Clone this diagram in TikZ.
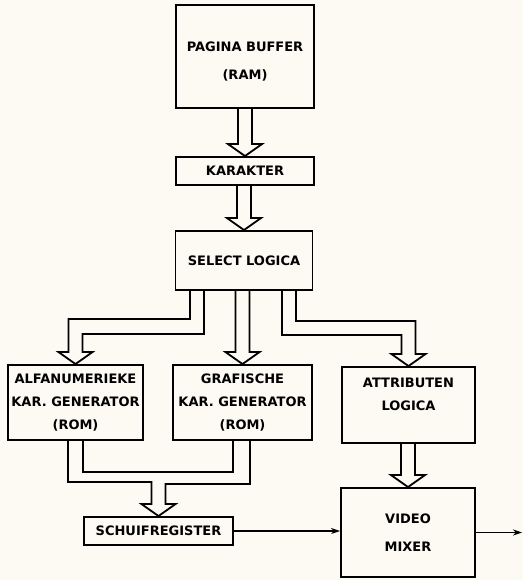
\documentclass[tikz,border=0pt]{standalone}
\usepackage{fontspec}
\setmainfont{DejaVu Sans}
\usepackage{tikz}
\usetikzlibrary{positioning,calc,arrows.meta}
\definecolor{paper}{RGB}{252,250,242}

\tikzset{
  blok/.style={draw, line width=1.9pt, rectangle, align=center, inner sep=0pt,
    font=\fontsize{13}{14}\selectfont\bfseries},
  lbl/.style={align=center, inner sep=0pt, font=\fontsize{13}{14}\selectfont\bfseries},
  bus/.style={line width=1.8pt, line join=miter},
  sig/.style={line width=1.3pt, -{Stealth[length=9pt,width=6pt]}}
}

% rechte bus met open pijlpunt, van #1 (onderkant) naar #2 (bovenkant)
\newcommand{\busv}[2]{%
  \coordinate (bl) at ($(#2.north)+(-7,-12)$);
  \coordinate (br) at ($(#2.north)+(7,-12)$);
  \draw[bus] (bl |- #1.south) -- (bl) -- ++(-10,0) -- (#2.north)
    -- ($(br)+(10,0)$) -- (br) -- (br |- #1.south);}

\begin{document}
\begin{tikzpicture}[x=1pt,y=-1pt]
    \path[use as bounding box, fill=paper] (0,0) rectangle (523,580);

    % Blokken
    \node[blok, minimum width=138, minimum height=103] (buffer) at (245,56.5) {};
    \node[lbl] (buffer-txt) at ($(buffer)+(0,5.5)$) {PAGINA BUFFER\\[14pt](RAM)};
    \node[blok, minimum width=138, minimum height=28] (karakter) at (245,171) {KARAKTER};
    \node[blok, minimum width=137, minimum height=59] (select) at (244,260.5) {SELECT LOGICA};
    \node[blok, minimum width=135, minimum height=75] (alfa) at (75.5,402.5)
        {ALFANUMERIEKE\\[8.5pt]KAR. GENERATOR\\[9pt](ROM)};
    \node[blok, minimum width=139, minimum height=75] (grafisch) at (242.5,402.5)
        {GRAFISCHE\\[8.5pt]KAR. GENERATOR\\[9pt](ROM)};
    \node[blok, minimum width=133, minimum height=76] (attrib) at (408.5,405) {};
    \node[lbl] (attrib-txt) at ($(attrib)+(0,-10.5)$) {ATTRIBUTEN\\[9pt]LOGICA};
    \node[blok, minimum width=134, minimum height=89] (video) at (408,532.5) {VIDEO\\[14pt]MIXER};
    \node[blok, minimum width=149, minimum height=28] (schuif) at (158.5,531) {SCHUIFREGISTER};

    % Bussen
    \busv{buffer}{karakter}
    \busv{karakter}{select}
    \busv{select}{grafisch}
    \busv{attrib}{video}
    \draw[bus] ($(select.south)+(-54,0)$) |- ($(alfa.north)+(-7,-45)$) -- ($(alfa.north)+(-7,-12)$)
        -- ++(-10,0) -- (alfa.north) -- ($(alfa.north)+(17,-12)$) -- ++(-10,0)
        -- ($(alfa.north)+(7,-30)$) -| ($(select.south)+(-40,0)$);
    \draw[bus] ($(select.south)+(38,0)$) |- ($(attrib.north)+(-7,-31)$) -- ($(attrib.north)+(-7,-12)$)
        -- ++(-10,0) -- (attrib.north) -- ($(attrib.north)+(17,-12)$) -- ++(-10,0)
        -- ($(attrib.north)+(7,-45)$) -| ($(select.south)+(52,0)$);
    \draw[bus] ($(alfa.south)+(-7.5,0)$) |- ($(schuif.north)+(-7,-34)$) -- ($(schuif.north)+(-7,-12)$)
        -- ++(-10,0) -- (schuif.north) -- ($(schuif.north)+(17,-12)$) -- ++(-10,0)
        |- ($(grafisch.south)+(7.5,43)$) -- ($(grafisch.south)+(7.5,0)$);
    \draw[bus] ($(alfa.south)+(7.5,0)$) |- ($(grafisch.south)+(-9.5,31)$) -- ($(grafisch.south)+(-9.5,0)$);

    % Signalen
    \draw[sig] (schuif.east) -- (schuif.east -| video.west);
    \coordinate (uit) at (522,532.5);
    \draw[sig] (video.east) -- (uit);
\end{tikzpicture}
\end{document}
